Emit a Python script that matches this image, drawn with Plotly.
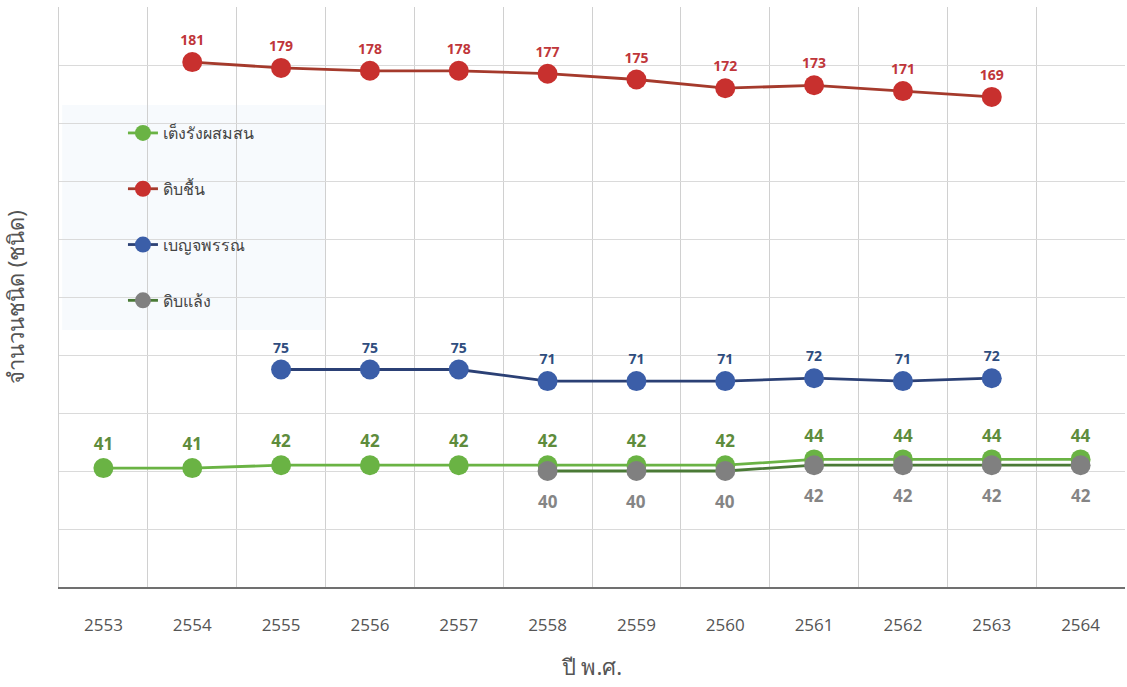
import plotly.graph_objects as go

years = ["2553", "2554", "2555", "2556", "2557", "2558", "2559", "2560", "2561", "2562", "2563", "2564"]

names = ["เต็งรังผสมสน", "ดิบชื้น", "เบญจพรรณ", "ดิบแล้ง"]
teng_rang = [41, 41, 42, 42, 42, 42, 42, 42, 44, 44, 44, 44]
dib_chuen = [None, 181, 179, 178, 178, 177, 175, 172, 173, 171, 169, None]
benja = [None, None, 75, 75, 75, 71, 71, 71, 72, 71, 72, None]
dib_laeng = [None, None, None, None, None, 40, 40, 40, 42, 42, 42, 42]

series = [teng_rang, dib_chuen, benja, dib_laeng]
marker_colors = ["#6ab344", "#c8302e", "#3b5ea8", "#808080"]
line_colors = ["#6ab344", "#a53a2c", "#2b4075", "#4a7a36"]
label_colors = ["#5e8c3c", "#c0363a", "#2f4d7e", "#858585"]
label_sizes = [17, 14, 14, 17]

fig = go.Figure()
for i in range(4):
    vals = series[i]
    inline_text = i < 3
    fig.add_trace(go.Scatter(
        x=years, y=vals, name=names[i], legendgroup=names[i],
        mode="lines+markers+text" if inline_text else "lines+markers",
        line=dict(color=line_colors[i], width=2.8),
        marker=dict(color=marker_colors[i], size=20),
        text=[("" if v is None else str(v)) for v in vals] if inline_text else None,
        textposition="top center",
        textfont=dict(color=label_colors[i], size=label_sizes[i], family="Open Sans", weight="bold"),
        cliponaxis=False,
    ))

# labels below the ดิบแล้ง points (x given as category index)
for idx, v in enumerate(dib_laeng):
    if v is None:
        continue
    fig.add_annotation(x=idx, y=v, xref="x", yref="y", text=str(v), showarrow=False, yshift=-30,
                       font=dict(color=label_colors[3], size=label_sizes[3], family="Open Sans", weight="bold"))

fig.add_shape(type="rect", xref="paper", yref="paper", x0=0.003, x1=0.2495, y0=0.443, y1=0.831,
              fillcolor="rgba(220,234,246,0.22)", line=dict(width=0), layer="below")

fig.update_layout(
    width=1127, height=687,
    margin=dict(l=59, r=2, t=7, b=100),
    paper_bgcolor="white", plot_bgcolor="white",
    font=dict(family="Noto Sans, Open Sans, sans-serif", color="#555555"),
    showlegend=True,
    legend=dict(x=0.06, y=0.812, xanchor="left", yanchor="top",
                bgcolor="rgba(0,0,0,0)", tracegroupgap=32,
                font=dict(size=16, color="#444444", family="Noto Sans, sans-serif")),
    xaxis=dict(
        type="category", tickson="boundaries", showgrid=True, gridcolor="#d0d0d0", gridwidth=1,
        showline=True, linecolor="#707070", linewidth=2,
        ticks="", ticklabelstandoff=22,
        tickfont=dict(size=17, color="#555555", family="Open Sans"),
        title=dict(text="ปี พ.ศ.", font=dict(size=22, color="#555555"), standoff=24),
        range=[-0.5, 11.5],
    ),
    yaxis=dict(
        range=[0, 200], dtick=20, showgrid=True, gridcolor="#dadada", gridwidth=1,
        showticklabels=False, zeroline=False,
        showline=True, linecolor="#d0d0d0", linewidth=1,
        title=dict(text="จำนวนชนิด (ชนิด)", font=dict(size=22, color="#555555"), standoff=30),
    ),
)

fig.write_html("out.html")
